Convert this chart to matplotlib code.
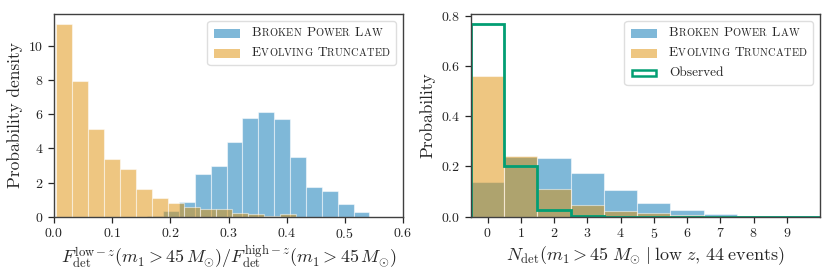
import matplotlib
matplotlib.use('Agg')
import matplotlib.pyplot as plt
import numpy as np
from matplotlib.offsetbox import AnchoredOffsetbox, HPacker, VPacker, TextArea, DrawingArea
from matplotlib.patches import Rectangle

# ---------------- data ----------------
ratio_bpl_start = 0.1601
ratio_bpl_width = 0.0273
ratio_bpl_density = [0.05, 0.32, 0.87, 2.52, 2.97, 4.39, 5.76, 6.15, 5.70, 3.48,
                     1.76, 1.48, 0.72, 0.27]
ratio_evo_start = 0.0028
ratio_evo_width = 0.0276
ratio_evo_density = [11.29, 7.95, 5.12, 3.36, 2.79, 1.60, 1.07, 0.78, 0.56, 0.43,
                     0.47, 0.24, 0.17, 0.02, 0.17]

n_det = list(range(11))
n_bpl_prob = [0.139, 0.238, 0.232, 0.175, 0.105, 0.056, 0.028, 0.012, 0.004, 0.002, 0.001]
n_evo_prob = [0.558, 0.240, 0.111, 0.048, 0.023, 0.013, 0.005, 0.002, 0.001, 0.0, 0.0]
n_obs_prob = [0.768, 0.203, 0.026, 0.003, 0.0, 0.0, 0.0, 0.0, 0.0, 0.0, 0.0]

labels = ["Broken Power Law", "Evolving Truncated", "Observed"]

BLUE = '#0173B2'
ORANGE = '#DE8F05'
GREEN = '#029E73'
DARK = '#262626'

plt.rcParams['font.family'] = 'serif'
plt.rcParams['font.serif'] = ['cmr10', 'DejaVu Serif']
plt.rcParams['mathtext.fontset'] = 'cm'
plt.rcParams['axes.formatter.use_mathtext'] = True
plt.rcParams['axes.unicode_minus'] = False
plt.rcParams['text.color'] = DARK
plt.rcParams['axes.labelcolor'] = DARK
plt.rcParams['xtick.color'] = DARK
plt.rcParams['ytick.color'] = DARK
plt.rcParams['axes.edgecolor'] = '#404040'

fig = plt.figure(figsize=(8.30, 2.77), dpi=100)
W, H = 830, 277
ax1 = fig.add_axes([54 / W, (H - 216.7) / H, 349 / W, 202.7 / H])
ax2 = fig.add_axes([471 / W, (H - 216.7) / H, 349 / W, 202.7 / H])


def edges_from(start, width, n):
    return start + width * np.arange(n + 1)


# ---------------- left panel ----------------
e_bpl = edges_from(ratio_bpl_start, ratio_bpl_width, len(ratio_bpl_density))
e_evo = edges_from(ratio_evo_start, ratio_evo_width, len(ratio_evo_density))
ax1.hist(0.5 * (e_bpl[1:] + e_bpl[:-1]), bins=e_bpl, weights=ratio_bpl_density,
         color=BLUE, alpha=0.5, edgecolor='white', linewidth=0.8)
ax1.hist(0.5 * (e_evo[1:] + e_evo[:-1]), bins=e_evo, weights=ratio_evo_density,
         color=ORANGE, alpha=0.5, edgecolor='white', linewidth=0.8)
ax1.set_xlim(0, 0.6)
ax1.set_ylim(0, max(ratio_evo_density) * 1.05)
ax1.set_xticks([0.0, 0.1, 0.2, 0.3, 0.4, 0.5, 0.6])
ax1.set_yticks([0, 2, 4, 6, 8, 10])
ax1.set_ylabel('Probability density', fontsize=12.5)
ax1.set_xlabel(r'$F_{\rm det}^{{\rm low}-z}(m_1 > 45\,M_{\odot})/F_{\rm det}^{{\rm high}-z}(m_1 > 45\,M_{\odot})$',
               fontsize=13, labelpad=2)

# ---------------- right panel ----------------
e_n = np.arange(len(n_det) + 1) - 0.5
ax2.hist(n_det, bins=e_n, weights=n_bpl_prob, color=BLUE, alpha=0.5,
         edgecolor='white', linewidth=0.8)
ax2.hist(n_det, bins=e_n, weights=n_evo_prob, color=ORANGE, alpha=0.5,
         edgecolor='white', linewidth=0.8)
ax2.hist(n_det, bins=e_n, weights=n_obs_prob, histtype='step', color=GREEN,
         linewidth=2.0)
ax2.set_xlim(-0.5, 10)
ax2.set_ylim(0, max(n_obs_prob) * 1.05)
ax2.set_xticks(list(range(10)))
ax2.set_yticks([0.0, 0.2, 0.4, 0.6, 0.8])
ax2.set_ylabel('Probability', fontsize=12.5)
ax2.set_xlabel(r'$N_{\rm det}(m_1 > 45\;M_{\odot}\;|\;{\rm low}\;z,\,44\;{\rm events})$',
               fontsize=13, labelpad=2)

for ax in (ax1, ax2):
    ax.tick_params(direction='out', length=4.5, width=0.9, labelsize=10, pad=3)
    for s in ax.spines.values():
        s.set_linewidth(1.0)


# ---------------- small-caps legends ----------------
def smallcaps(text, big=9.6, small=7.5, track=0.15):
    kids = []
    for i, w in enumerate(text.split(' ')):
        if i:
            kids.append(DrawingArea(3.4, 1, 0, 0))
        kids.append(TextArea(w[0], textprops=dict(size=big, color=DARK)))
        for ch in w[1:].upper():
            kids.append(TextArea(ch, textprops=dict(size=small, color=DARK)))
    return HPacker(children=kids, align='baseline', pad=0, sep=track)


def handle(color, filled=True):
    da = DrawingArea(19, 6.5, 0, 0)
    if filled:
        r = Rectangle((0, 0), 19, 6.5, facecolor=color, alpha=0.5, edgecolor='none')
    else:
        r = Rectangle((0.9, 0.9), 17.2, 4.7, facecolor='none', edgecolor=color, linewidth=1.8)
    da.add_artist(r)
    return da


def make_legend(ax, entries):
    rows = []
    for lab, color, filled, sc in entries:
        txt = smallcaps(lab) if sc else TextArea(lab, textprops=dict(size=9.6, color=DARK))
        rows.append(HPacker(children=[handle(color, filled), txt], align='center', pad=0, sep=8.5))
    vp = VPacker(children=rows, align='left', pad=0, sep=5.6)
    box = AnchoredOffsetbox(loc='upper right', child=vp, pad=0.45, borderpad=0.5,
                            frameon=True, prop=dict(size=10))
    box.patch.set_boxstyle('round,pad=0,rounding_size=0.25')
    box.patch.set_edgecolor('0.85')
    box.patch.set_facecolor('white')
    box.patch.set_alpha(0.85)
    ax.add_artist(box)


make_legend(ax1, [(labels[0], BLUE, True, True), (labels[1], ORANGE, True, True)])
make_legend(ax2, [(labels[0], BLUE, True, True), (labels[1], ORANGE, True, True),
                  (labels[2], GREEN, False, False)])

fig.savefig('out.png', dpi=100)
